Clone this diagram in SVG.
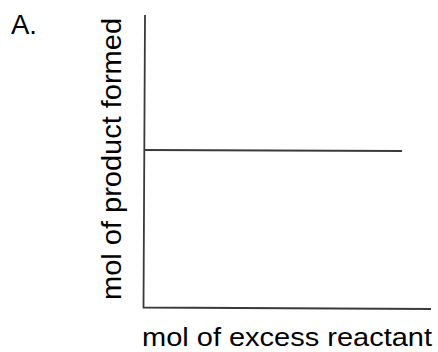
<svg xmlns="http://www.w3.org/2000/svg" width="438" height="352" viewBox="0 0 438 352">
<style>
.ax{stroke:#3a3a3a;stroke-width:1.8;fill:none;stroke-linecap:butt}
.lbl{font-family:"Liberation Sans",Arial,sans-serif;fill:#000}
</style>
<rect width="438" height="352" fill="#fff"/>
<text class="lbl" x="11" y="34" font-size="28" textLength="26" lengthAdjust="spacingAndGlyphs">A.</text>
<g id="axes">
<path class="ax" d="M145,15 L143.5,307.5 L431,309"/>
</g>
<g id="data">
<path class="ax" d="M145,150 L402,151"/>
</g>
<text class="lbl" x="142" y="346" font-size="26" textLength="290" lengthAdjust="spacingAndGlyphs">mol of excess reactant</text>
<text class="lbl" transform="translate(121,300) rotate(-90)" x="0" y="0" font-size="28" textLength="282" lengthAdjust="spacingAndGlyphs">mol of product formed</text>
</svg>
